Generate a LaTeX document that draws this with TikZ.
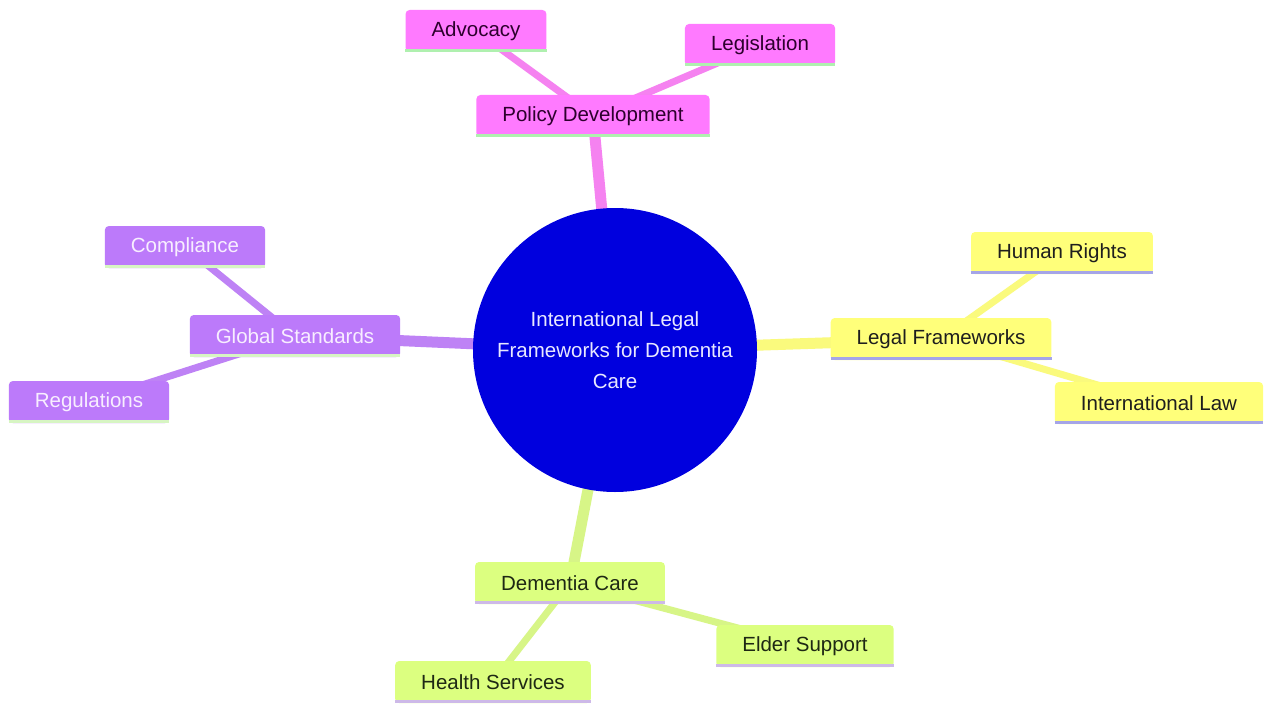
\documentclass[tikz,border=0pt]{standalone}
\usepackage{fontspec}
\setmainfont{Liberation Sans}
\usetikzlibrary{backgrounds}
\definecolor{pinkF}{RGB}{255,122,255}
\definecolor{pinkT}{RGB}{45,0,45}
\definecolor{pinkB}{RGB}{175,240,175}
\definecolor{pinkE}{RGB}{245,130,240}
\definecolor{purpF}{RGB}{188,122,250}
\definecolor{purpT}{RGB}{248,238,255}
\definecolor{purpB}{RGB}{215,245,195}
\definecolor{purpE}{RGB}{190,130,245}
\definecolor{yelF}{RGB}{255,255,122}
\definecolor{yelT}{RGB}{30,30,30}
\definecolor{yelB}{RGB}{165,165,232}
\definecolor{yelE}{RGB}{250,250,125}
\definecolor{grnF}{RGB}{220,255,128}
\definecolor{grnT}{RGB}{30,40,20}
\definecolor{grnB}{RGB}{205,185,232}
\definecolor{grnE}{RGB}{215,245,135}
\definecolor{rootF}{RGB}{0,0,222}
\definecolor{rootT}{RGB}{232,232,255}
\tikzset{
  mmbox/.style={rectangle, rounded corners=4pt, inner xsep=26pt, inner ysep=0pt,
    minimum height=42pt, font=\fontsize{20.5}{24}\selectfont},
  pinkbox/.style={mmbox, fill=pinkF, text=pinkT},
  purpbox/.style={mmbox, fill=purpF, text=purpT},
  yelbox/.style={mmbox, fill=yelF, text=yelT},
  grnbox/.style={mmbox, fill=grnF, text=grnT},
  rootedge/.style={line width=11pt},
  subedge/.style={line width=7pt},
  bline/.style={line width=3pt},
}
\begin{document}
\begin{tikzpicture}[x=1pt,y=-1pt]
\useasboundingbox (0,0) rectangle (1264,706);
% root
\node[circle, fill=rootF, text=rootT, minimum size=284pt, inner sep=0pt,
  align=center, font=\fontsize{20.5}{31}\selectfont] (root) at (615,350)
  {International Legal\\Frameworks for Dementia\\Care};
% policy development
\node[pinkbox] (pd) at (593,116) {Policy Development};
\node[pinkbox] (adv) at (476,31) {Advocacy};
\node[pinkbox] (leg) at (760,45) {Legislation};
% global standards
\node[purpbox] (gs) at (295,336) {Global Standards};
\node[purpbox] (comp) at (185,247) {Compliance};
\node[purpbox] (reg) at (89,402) {Regulations};
% legal frameworks
\node[yelbox] (lf) at (941,339) {Legal Frameworks};
\node[yelbox] (hr) at (1062,253) {Human Rights};
\node[yelbox] (il) at (1159,403) {International Law};
% dementia care
\node[grnbox] (dc) at (570,583) {Dementia Care};
\node[grnbox] (es) at (805,646) {Elder Support};
\node[grnbox] (hs) at (493,682) {Health Services};
% bottom lines
\foreach \n/\c in {pd/pinkB, adv/pinkB, leg/pinkB, gs/purpB, comp/purpB, reg/purpB,
  lf/yelB, hr/yelB, il/yelB, dc/grnB, es/grnB, hs/grnB}{
  \draw[bline, \c] ([yshift=1.5pt]\n.south west) -- ([yshift=1.5pt]\n.south east);
}
\begin{scope}[on background layer]
  \fill[white] (0,0) rectangle (1264,706);
  \draw[rootedge, pinkE] (root.center) -- (pd.center);
  \draw[subedge, pinkE] (pd.center) -- (adv.center);
  \draw[subedge, pinkE] (pd.center) -- (leg.center);
  \draw[rootedge, purpE] (root.center) -- (gs.center);
  \draw[subedge, purpE] (gs.center) -- (comp.center);
  \draw[subedge, purpE] (gs.center) -- (reg.center);
  \draw[rootedge, yelE] (root.center) -- (lf.center);
  \draw[subedge, yelE] (lf.center) -- (hr.center);
  \draw[subedge, yelE] (lf.center) -- (il.center);
  \draw[rootedge, grnE] (root.center) -- (dc.center);
  \draw[subedge, grnE] (dc.center) -- (es.center);
  \draw[subedge, grnE] (dc.center) -- (hs.center);
\end{scope}
\end{tikzpicture}
\end{document}
